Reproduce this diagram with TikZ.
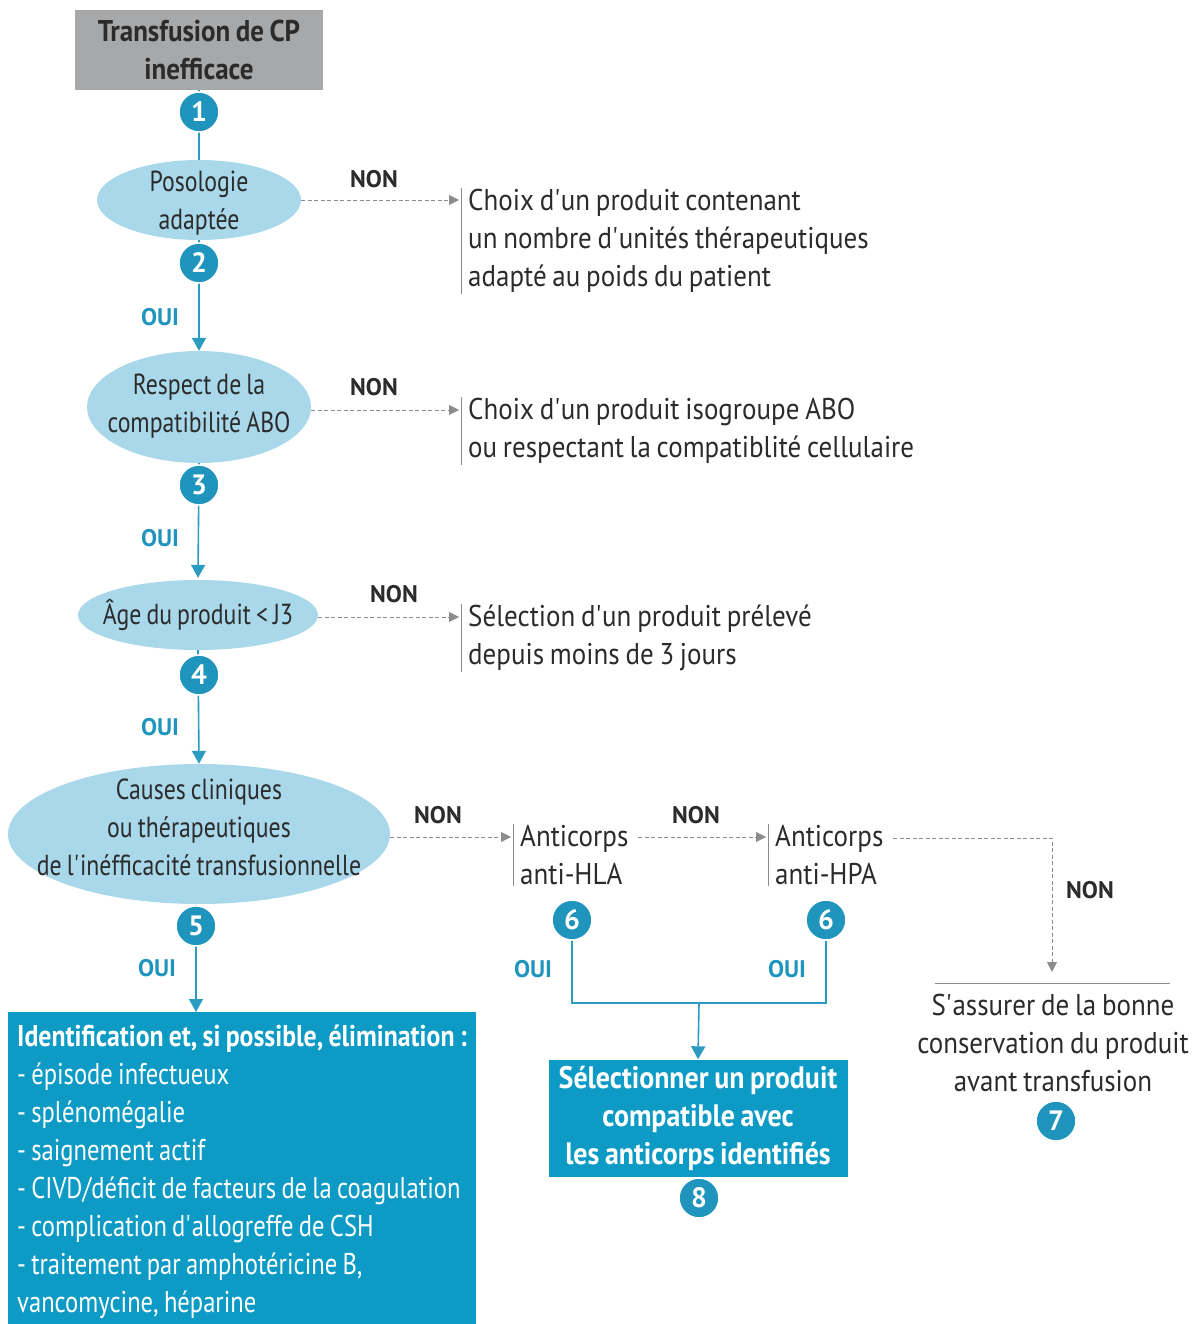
\documentclass[tikz,border=0pt]{standalone}
\usepackage{fontspec}
\setmainfont{PT Sans}[FakeStretch=0.9,WordSpace=0.8]
\newfontfamily\condf{PT Sans}[FakeStretch=0.82,WordSpace=0.8]
\newfontfamily\lblf{PT Sans}[WordSpace=0.8]
\usetikzlibrary{shapes.geometric,arrows.meta,calc}
\definecolor{ellblue}{HTML}{A9D8EA}
\definecolor{numblue}{HTML}{1F94BD}
\definecolor{boxblue}{HTML}{0D9BC5}
\definecolor{lineblue}{HTML}{2C9BC1}
\definecolor{greybox}{HTML}{A7A8AA}
\definecolor{dashgrey}{HTML}{8C8C8C}
\definecolor{txt}{HTML}{2B2B2B}
\newcommand{\ap}{\textquotesingle}
\begin{document}
\begin{tikzpicture}[x=1pt,y=-1pt,
  sidef/.style={font=\fontsize{30}{38}\selectfont},
  condtxt/.style={font=\condf\fontsize{29}{38}\selectfont},
  startbox/.style={rectangle,fill=greybox,minimum width=248pt,minimum height=80pt,inner sep=0pt,align=center,font=\bfseries\fontsize{30}{38}\selectfont,text=txt},
  ellshape/.style={ellipse,fill=ellblue,inner sep=0pt},
  elltext/.style={align=center,condtxt,text=txt,inner sep=0pt},
  num/.style={circle,fill=numblue,draw=white,line width=1.5pt,minimum size=40pt,inner sep=0pt,font=\lblf\bfseries\fontsize{28}{28}\selectfont,text=white},
  oui/.style={font=\lblf\bfseries\fontsize{24}{24}\selectfont,text=numblue,inner sep=0pt},
  non/.style={font=\lblf\bfseries\fontsize{24}{24}\selectfont,text=txt,inner sep=0pt},
  side/.style={anchor=west,align=left,sidef,text=txt,inner xsep=7pt,inner ysep=1pt},
  sidebar/.style={draw=dashgrey,line width=0.8pt},
  yesline/.style={draw=lineblue,line width=1.6pt},
  yesarrow/.style={yesline,-{Triangle[width=14pt,length=13pt]}},
  noarrow/.style={draw=dashgrey,line width=0.9pt,dash pattern=on 4pt off 2.5pt,-{Triangle[width=10pt,length=10pt]}},
  bigbox/.style={rectangle,fill=boxblue,anchor=north west,minimum width=468pt,minimum height=312pt,inner sep=0pt},
  bigtext/.style={anchor=north west,align=left,font=\condf\fontsize{30}{38}\selectfont,text=white,inner xsep=9pt,inner ysep=13pt},
  selbox/.style={rectangle,fill=boxblue,minimum width=299pt,minimum height=117pt,inner sep=0pt,align=center,font=\bfseries\fontsize{31}{38}\selectfont,text=white},
  endtext/.style={align=center,sidef,text=txt,inner sep=0pt,anchor=north}
]
\useasboundingbox (0,0) rectangle (1200,1324);

% main column
\node[startbox] (start) at (199,50) {Transfusion de CP\\inefficace};
\node[ellshape,minimum width=204pt,minimum height=80pt] (e1) at (199,200) {};
\node[elltext] (e1t) at ($(e1.center)+(0,3)$) {Posologie\\adaptée};
\node[ellshape,minimum width=224pt,minimum height=112pt] (e2) at (199,407) {};
\node[elltext] (e2t) at ($(e2.center)+(0,-1)$) {Respect de la\\compatibilité ABO};
\node[ellshape,minimum width=240pt,minimum height=70pt] (e3) at (198,615) {};
\node[elltext] (e3t) at (e3.center) {Âge du produit < J3};
\node[ellshape,minimum width=382pt,minimum height=140pt] (e4) at (199,834) {};
\node[elltext] (e4t) at ($(e4.center)+(0,-7)$) {Causes cliniques\\ou thérapeutiques\\de l\ap inéfficacité transfusionnelle};

\node[bigbox] (causes) at (8,1012) {};
\node[bigtext] (causestxt) at (causes.north west) {{\fontsize{30}{38}\fontspec{PT Sans}[FakeStretch=0.86,WordSpace=0.8]\bfseries Identification et, si possible, élimination :}\\- épisode infectueux\\- splénomégalie\\- saignement actif\\- CIVD/déficit de facteurs de la coagulation\\- complication d\ap allogreffe de CSH\\- traitement par amphotéricine B,\\vancomycine, héparine};

% side texts
\node[side] (n1) at (461,241) {Choix d\ap un produit contenant\\un nombre d\ap unités thérapeutiques\\adapté au poids du patient};
\node[side] (n2) at (461,431) {Choix d\ap un produit isogroupe ABO\\ou respectant la compatiblité cellulaire};
\node[side] (n3) at (461,638) {Sélection d\ap un produit prélevé\\depuis moins de 3 jours};
\node[side] (hla) at (513,855) {Anticorps\\anti-HLA};
\node[side] (hpa) at (768,855) {Anticorps\\anti-HPA};
\draw[sidebar] (n1.north west) -- (n1.south west);
\draw[sidebar] (n2.north west) -- (n2.south west);
\draw[sidebar] (n3.north west) -- (n3.south west);
\draw[sidebar] (hla.north west) -- (hla.south west);
\draw[sidebar] (hpa.north west) -- (hpa.south west);

\node[endtext] (cons) at (1053,994) {S\ap assurer de la bonne\\conservation du produit\\avant transfusion};
\draw[sidebar] (935,983) coordinate (rulel) -- (1170,983) coordinate (ruler);
\node[selbox] (sel) at (698,1118) {Sélectionner un produit\\compatible avec\\les anticorps identifiés};

% yes connectors
\draw[yesline] (start.south) -- (e1.north);
\draw[yesarrow] (e1.south) -- (e2.north);
\draw[yesarrow] (e2.south) -- ($(e3.north)+(0,-2)$);
\draw[yesarrow] (e3.south) -- (e4.north);
\coordinate (e4out) at (196,905);
\draw[yesarrow] (e4out) -- (e4out |- causes.north);

% numbers
\node[num] (c1) at (199,112) {1};
\node[num] (c2) at (199,263) {2};
\node[num] (c3) at (199,485) {3};
\node[num] (c4) at (199,675) {4};
\node[num] (c5) at (196,926) {5};
\node[num] (c6a) at (572,920) {6};
\node[num] (c6b) at (826,920) {6};
\node[num] (c7) at (1056,1121) {7};
\node[num] (c8) at (699,1198) {8};

% antibody yes connectors
\coordinate (join) at (699,1003);
\draw[yesline] (c6a.south) |- (join);
\draw[yesline] (c6b.south) |- (join);
\draw[yesarrow] (join) -- (sel.north);

% no connectors
\draw[noarrow,shorten >=2pt] (e1.east) -- (e1.east -| n1.west);
\draw[noarrow,shorten >=2pt] ($(e2.east)+(0,3)$) -- ($(e2.east -| n2.west)+(0,3)$);
\draw[noarrow,shorten >=2pt] ($(e3.east)+(0,2)$) -- ($(e3.east -| n3.west)+(0,2)$);
\coordinate (e4no) at (390,837);
\draw[noarrow,shorten >=2pt] (e4no) -- (e4no -| hla.west);
\coordinate (hlaout) at (638,837);
\draw[noarrow,shorten >=2pt] (hlaout) -- (hlaout -| hpa.west);
\coordinate (hpaout) at (893,838);
\coordinate (consin) at (1052,983);
\draw[noarrow,shorten >=11pt] (hpaout) -| (consin);

% labels
\node[oui] (o1) at (160,317) {OUI};
\node[oui] (o2) at (160,538) {OUI};
\node[oui] (o3) at (160,727) {OUI};
\node[oui] (o4) at (157,968) {OUI};
\node[oui] (o5) at (533,969) {OUI};
\node[oui] (o6) at (787,969) {OUI};
\node[non] (x1) at (374,179) {NON};
\node[non] (x2) at (374,387) {NON};
\node[non] (x3) at (394,594) {NON};
\node[non] (x4) at (438,815) {NON};
\node[non] (x5) at (696,815) {NON};
\node[non] (x6) at (1090,890) {NON};
\end{tikzpicture}
\end{document}
